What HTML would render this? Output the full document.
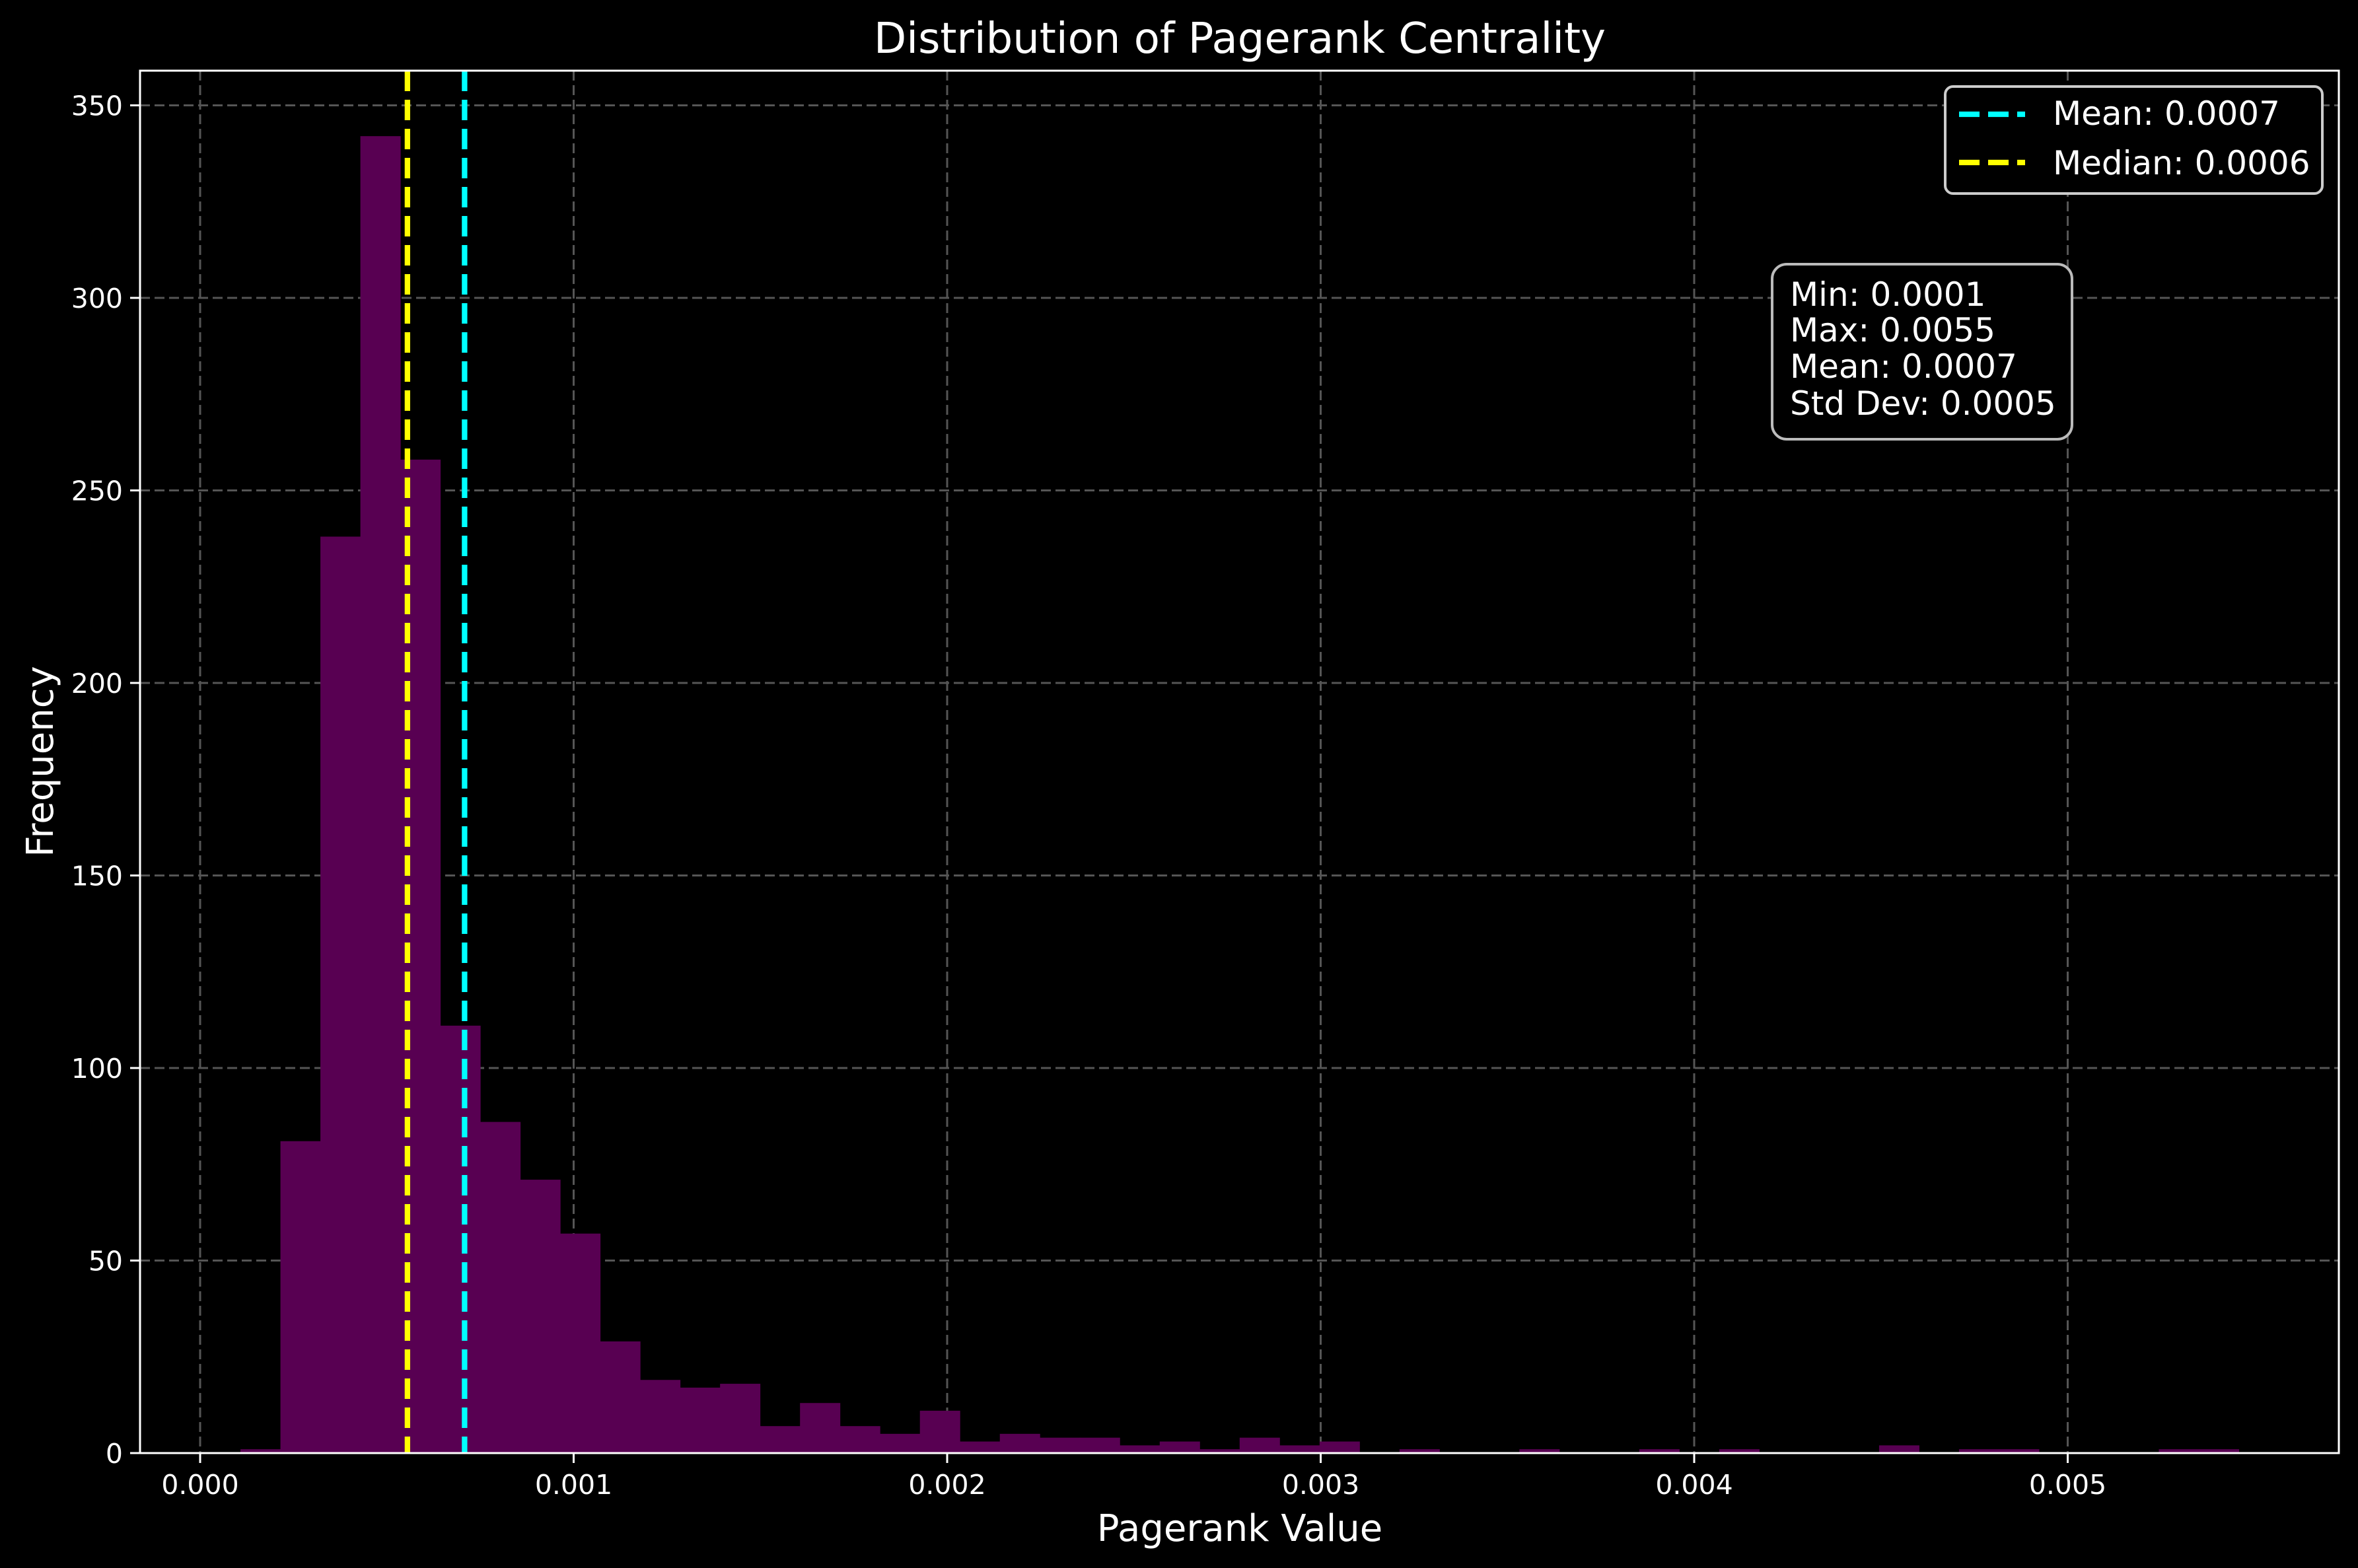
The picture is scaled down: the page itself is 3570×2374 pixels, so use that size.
<!DOCTYPE html>
<html><head><meta charset="utf-8"><style>
html,body{margin:0;padding:0;background:#000;}
svg{display:block;font-family:"DejaVu Sans","Liberation Sans",sans-serif;}
</style></head><body>
<svg id="chart" width="3570" height="2374" viewBox="0 0 3570 2374" xmlns="http://www.w3.org/2000/svg">
<rect x="0" y="0" width="3570" height="2374" fill="#000"/>
<g id="grid"></g>
<g id="bars"></g>
<g id="vlines"></g>
<g id="axes"></g>
<text x="1877" y="80" fill="#fff" font-size="64" text-anchor="middle">Distribution of Pagerank Centrality</text>
<text x="1877" y="2333" fill="#fff" font-size="56" text-anchor="middle">Pagerank Value</text>
<text transform="translate(80,1153) rotate(-90)" fill="#fff" font-size="56" text-anchor="middle">Frequency</text>
<g>
<rect x="2945" y="131" width="571" height="162" rx="12" fill="#000" stroke="#ccc" stroke-width="4"/>
<line x1="2966" y1="173" x2="3066" y2="173" stroke="#00ffff" stroke-width="8.3" stroke-dasharray="31,13"/>
<text x="3108" y="189" fill="#fff" font-size="50">Mean: 0.0007</text>
<line x1="2966" y1="246" x2="3066" y2="246" stroke="#ffff00" stroke-width="8.3" stroke-dasharray="31,13"/>
<text x="3108" y="264" fill="#fff" font-size="50">Median: 0.0006</text>
</g>
<g>
<rect x="2683" y="400" width="454" height="265" rx="22" fill="#000" stroke="#bbb" stroke-width="4"/>
<text x="2710" y="463" fill="#fff" font-size="50">Min: 0.0001</text>
<text x="2710" y="517" fill="#fff" font-size="50">Max: 0.0055</text>
<text x="2710" y="572" fill="#fff" font-size="50">Mean: 0.0007</text>
<text x="2710" y="628" fill="#fff" font-size="50">Std Dev: 0.0005</text>
</g>
</svg>
<script>
const binStart = 0.000108;
const binWidth = 0.0001070;
const counts = [1,81,238,342,258,111,86,71,57,29,19,17,18,7,13,7,5,11,3,5,4,4,2,3,1,4,2,3,0,1,0,0,1,0,0,1,0,1,0,0,0,2,0,1,1,0,0,0,1,1];
const xTicks = [0,0.001,0.002,0.003,0.004,0.005];
const xTickLabels = ["0.000","0.001","0.002","0.003","0.004","0.005"];
const yTicks = [0,50,100,150,200,250,300,350];
const meanValue = 0.000708;
const medianValue = 0.000555;

const L=212,R=3541,T=107,B=2200;
const NS="http://www.w3.org/2000/svg";
function xs(v){return 303+v*565500;}
function ys(v){return B-v*5.83;}
function mk(tag,attrs,parent){const e=document.createElementNS(NS,tag);for(const k in attrs)e.setAttribute(k,attrs[k]);parent.appendChild(e);return e;}
const grid=document.getElementById('grid'),bars=document.getElementById('bars'),vl=document.getElementById('vlines'),axes=document.getElementById('axes');
xTicks.forEach(function(t,i){
  const g=mk('line',{x1:xs(t),x2:xs(t),y1:T,y2:B,stroke:'#555',"stroke-width":3,"stroke-dasharray":"15,7"},grid);
  
  
  const tk=mk('line',{x1:xs(t),x2:xs(t),y1:B,y2:B+15,stroke:'#fff',"stroke-width":3},axes);
  
  
  const tx=mk('text',{x:xs(t),y:B+62,fill:'#fff',"font-size":41,"text-anchor":"middle"},axes);
  tx.textContent=xTickLabels[i];
  
  
});
yTicks.forEach(function(t){
  const g=mk('line',{x1:L,x2:R,y1:ys(t),y2:ys(t),stroke:'#555',"stroke-width":3,"stroke-dasharray":"15,7"},grid);
  
  
  const tk=mk('line',{x1:L-15,x2:L,y1:ys(t),y2:ys(t),stroke:'#fff',"stroke-width":3},axes);
  
  
  const tx=mk('text',{x:L-26,y:ys(t)+15,fill:'#fff',"font-size":41,"text-anchor":"end"},axes);
  tx.textContent=String(t);
  
  
});
counts.forEach(function(c,i){
  if(c<=0)return;
  const x0=xs(binStart+i*binWidth),x1=xs(binStart+(i+1)*binWidth);
  const r=mk('rect',{x:x0,y:ys(c),width:x1-x0+0.5,height:B-ys(c),fill:'#580052'},bars);
  
  
});
const med=mk('line',{x1:xs(medianValue),x2:xs(medianValue),y1:T,y2:B,stroke:'#ffff00',"stroke-width":8.3,"stroke-dasharray":"31,13"},vl);


const mn=mk('line',{x1:xs(meanValue),x2:xs(meanValue),y1:T,y2:B,stroke:'#00ffff',"stroke-width":8.3,"stroke-dasharray":"31,13"},vl);


const fr=mk('rect',{x:L,y:T,width:R-L,height:B-T,fill:'none',stroke:'#fff',"stroke-width":3},axes);


</script>
</body></html>
